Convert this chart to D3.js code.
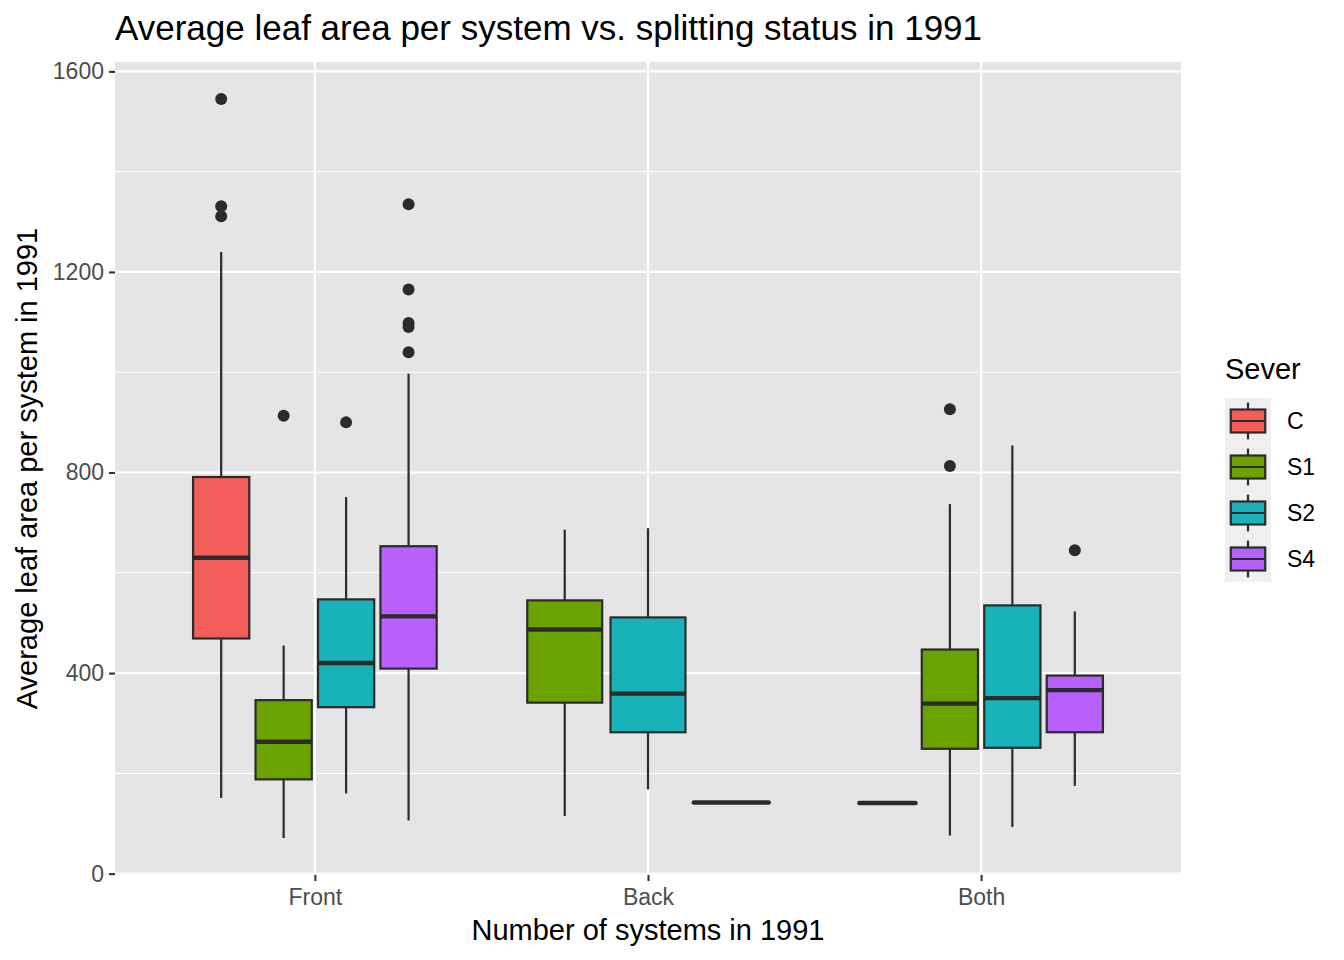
<!DOCTYPE html>
<html>
<head>
<meta charset="utf-8">
<script src="https://cdn.jsdelivr.net/npm/d3@7/dist/d3.min.js"></script>
<style>
  html, body { margin: 0; padding: 0; background: #ffffff; }
  svg { display: block; font-family: "Liberation Sans", Arial, Helvetica, sans-serif; }
</style>
</head>
<body>
<svg id="chart" width="1344" height="960"></svg>
<script>
// ---------- data ----------
const categories = ["Front", "Back", "Both"];
const severLevels = ["C", "S1", "S2", "S4"];
const severColors = ["#F35E5A", "#6AA300", "#17B3B8", "#B961FF"];

const boxCategory = ["Front", "Front", "Front", "Front", "Back", "Back", "Back", "Both", "Both", "Both", "Both"];
const boxSever    = ["C", "S1", "S2", "S4", "S1", "S2", "S4", "C", "S1", "S2", "S4"];
const whiskerLow  = [151, 71, 160, 106, 115, 168, 142, 141, 76, 93, 175];
const q1          = [469, 188, 332, 409, 341, 282, 142, 141, 249, 251, 282];
const median      = [630, 263, 420, 513, 487, 359, 142, 141, 339, 350, 366];
const q3          = [791, 346, 547, 653, 545, 511, 142, 141, 447, 535, 395];
const whiskerHigh = [1240, 455, 751, 997, 686, 689, 142, 141, 737, 854, 523];
const outliers    = [[1545, 1331, 1311], [913], [900], [1335, 1165, 1098, 1090, 1040], [], [], [], [], [926, 813], [], [645]];

const yTicks = [0, 400, 800, 1200, 1600];
const yMinorTicks = [200, 600, 1000, 1400];

const titleText = "Average leaf area per system vs. splitting status in 1991";
const xTitle = "Number of systems in 1991";
const yTitle = "Average leaf area per system in 1991";
const legendTitle = "Sever";

// ---------- layout ----------
const panel = { left: 115, right: 1181, top: 62, bottom: 875 };
const svg = d3.select("#chart");

const allVals = whiskerLow.concat(whiskerHigh, outliers.flat());
const [vmin, vmax] = d3.extent(allVals);
const pad = (vmax - vmin) * 0.05;
const y = d3.scaleLinear().domain([vmin - pad, vmax + pad]).range([panel.bottom, panel.top]);
const x = d3.scalePoint().domain(categories).range([panel.left, panel.right]).padding(0.6);
const color = d3.scaleOrdinal().domain(severLevels).range(severColors);

// panel background
svg.append("rect")
  .attr("x", panel.left).attr("y", panel.top)
  .attr("width", panel.right - panel.left).attr("height", panel.bottom - panel.top)
  .attr("fill", "#E5E5E5");

// grid
const grid = svg.append("g");
grid.selectAll("line.minor").data(yMinorTicks).join("line")
  .attr("x1", panel.left).attr("x2", panel.right)
  .attr("y1", d => y(d)).attr("y2", d => y(d))
  .attr("stroke", "#ffffff").attr("stroke-width", 1.1);
grid.selectAll("line.majory").data(yTicks).join("line")
  .attr("x1", panel.left).attr("x2", panel.right)
  .attr("y1", d => y(d)).attr("y2", d => y(d))
  .attr("stroke", "#ffffff").attr("stroke-width", 2.2);
grid.selectAll("line.majorx").data(categories).join("line")
  .attr("x1", d => x(d)).attr("x2", d => x(d))
  .attr("y1", panel.top).attr("y2", panel.bottom)
  .attr("stroke", "#ffffff").attr("stroke-width", 2.2);

// axes
const yAxis = d3.axisLeft(y).tickValues(yTicks).tickSize(6).tickPadding(5).tickFormat(d3.format("d"));
const gy = svg.append("g").attr("transform", `translate(${panel.left},0)`).call(yAxis);
const xAxis = d3.axisBottom(x).tickSize(6).tickPadding(5);
const gx = svg.append("g").attr("transform", `translate(0,${panel.bottom})`).call(xAxis);
[gy, gx].forEach(g => {
  g.select(".domain").remove();
  g.selectAll(".tick line").attr("stroke", "#333333").attr("stroke-width", 2.1);
  g.selectAll(".tick text").attr("fill", "#4D4D4D").attr("font-size", 23)
    .attr("font-family", "Liberation Sans, Arial, sans-serif");
});
gx.selectAll(".tick text").attr("dy", "0.82em");

// boxes
const step = x.step();
const boxes = d3.range(boxCategory.length).map(i => {
  const cat = boxCategory[i];
  const groupsInCat = boxSever.filter((s, j) => boxCategory[j] === cat);
  const cx = x(cat);
  const sub = d3.scaleBand().domain(groupsInCat)
    .range([cx - 0.375 * step, cx + 0.375 * step])
    .paddingInner(0.1).paddingOuter(0.05);
  const x0 = sub(boxSever[i]);
  return { i, x0, w: sub.bandwidth(), xc: x0 + sub.bandwidth() / 2, sever: boxSever[i] };
});

const gb = svg.append("g");
const lineCol = "#2B2B2B";
boxes.forEach(b => {
  const g = gb.append("g");
  // outliers
  g.selectAll("circle").data(outliers[b.i]).join("circle")
    .attr("cx", b.xc).attr("cy", d => y(d)).attr("r", 6)
    .attr("fill", lineCol);
  // whiskers
  g.append("line").attr("x1", b.xc).attr("x2", b.xc)
    .attr("y1", y(q3[b.i])).attr("y2", y(whiskerHigh[b.i]))
    .attr("stroke", lineCol).attr("stroke-width", 2.2);
  g.append("line").attr("x1", b.xc).attr("x2", b.xc)
    .attr("y1", y(q1[b.i])).attr("y2", y(whiskerLow[b.i]))
    .attr("stroke", lineCol).attr("stroke-width", 2.2);
  // box
  g.append("rect").attr("x", b.x0).attr("width", b.w)
    .attr("y", y(q3[b.i])).attr("height", y(q1[b.i]) - y(q3[b.i]))
    .attr("fill", color(b.sever)).attr("stroke", lineCol).attr("stroke-width", 2.2);
  // median
  const degenerate = q1[b.i] === q3[b.i];
  g.append("line").attr("x1", b.x0).attr("x2", b.x0 + b.w)
    .attr("y1", y(median[b.i])).attr("y2", y(median[b.i]))
    .attr("stroke", lineCol).attr("stroke-width", 4.4)
    .attr("stroke-linecap", degenerate ? "round" : "butt");
});

// titles
svg.append("text").attr("x", panel.left).attr("y", 40)
  .attr("font-size", 35).attr("fill", "#000").text(titleText);
svg.append("text").attr("x", (panel.left + panel.right) / 2).attr("y", 940)
  .attr("text-anchor", "middle").attr("font-size", 29).attr("fill", "#000").text(xTitle);
svg.append("text")
  .attr("transform", `translate(37,${(panel.top + panel.bottom) / 2}) rotate(-90)`)
  .attr("text-anchor", "middle").attr("font-size", 29).attr("fill", "#000").text(yTitle);

// legend
const lg = svg.append("g");
const keyX = 1225, keyY = 398, keyW = 46, keyH = 46;
lg.append("text").attr("x", keyX).attr("y", 379).attr("font-size", 29).attr("fill", "#000").text(legendTitle);
severLevels.forEach((s, k) => {
  const ky = keyY + k * keyH;
  lg.append("rect").attr("x", keyX).attr("y", ky).attr("width", keyW).attr("height", keyH).attr("fill", "#EFEFEF");
  const cx = keyX + keyW / 2;
  lg.append("line").attr("x1", cx).attr("x2", cx).attr("y1", ky + keyH * 0.1).attr("y2", ky + keyH * 0.9)
    .attr("stroke", lineCol).attr("stroke-width", 2.2);
  lg.append("rect").attr("x", keyX + keyW * 0.125).attr("y", ky + keyH * 0.25)
    .attr("width", keyW * 0.75).attr("height", keyH * 0.5)
    .attr("fill", color(s)).attr("stroke", lineCol).attr("stroke-width", 2.2);
  lg.append("line").attr("x1", keyX + keyW * 0.125).attr("x2", keyX + keyW * 0.875)
    .attr("y1", ky + keyH / 2).attr("y2", ky + keyH / 2)
    .attr("stroke", lineCol).attr("stroke-width", 2.2);
  lg.append("text").attr("x", 1287).attr("y", ky + keyH / 2).attr("dy", "0.35em")
    .attr("font-size", 23).attr("fill", "#000").text(s);
});
</script>
</body>
</html>
